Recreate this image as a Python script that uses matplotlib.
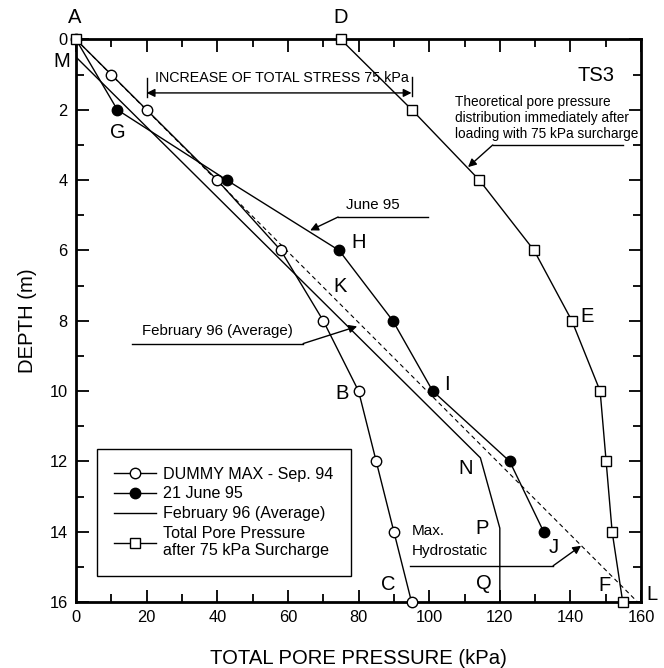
import numpy as np
import matplotlib.pyplot as plt
from matplotlib.ticker import MultipleLocator

plt.rcParams['font.family'] = ['Liberation Sans', 'DejaVu Sans']

# DUMMY MAX - Sep. 94 (open circles)
dummy_p = [0, 10, 20, 40, 58, 70, 80, 85, 90, 95]
dummy_d = [0, 1, 2, 4, 6, 8, 10, 12, 14, 16]

# 21 June 95 (filled circles)
june_p = [0, 11.7, 42.7, 74.5, 89.7, 101, 122.8, 132.4]
june_d = [0, 2, 4, 6, 8, 10, 12, 14]

# February 96 (Average)
feb_p = [0, 114.5, 120, 120]
feb_d = [0.5, 11.9, 13.9, 16]

# Total pore pressure after 75 kPa surcharge (open squares)
total_p = [75, 95.1, 114.2, 129.7, 140.4, 148.4, 150.1, 151.8, 154.8]
total_d = [0, 2, 4, 6, 8, 10, 12, 14, 16]

# Max. hydrostatic
hydro_p = [0, 159]
hydro_d = [0, 16]

letters = ['A', 'D', 'M', 'G', 'H', 'K', 'B', 'I', 'E', 'N', 'P', 'J', 'Q', 'C', 'F', 'L']
letter_x = [-0.3, 75, -4, 11.9, 79.9, 74.8, 75.4, 105.1, 144.8, 110.2, 115, 135.4, 115.6, 88.4, 149.6, 163.2]
letter_y = [-0.62, -0.62, 0.64, 2.64, 5.77, 7.02, 10.07, 9.81, 7.88, 12.2, 13.9, 14.46, 15.48, 15.5, 15.54, 15.8]

fig = plt.figure(figsize=(6.64, 6.68), dpi=100)
ax = fig.add_axes([0.1145, 0.0988, 0.851, 0.8421])

ax.plot(dummy_p, dummy_d, color='k', lw=1, marker='o', ms=7.5, mfc='white', mec='k', mew=1,
        clip_on=False, zorder=3, label='DUMMY MAX - Sep. 94')
ax.plot(june_p[1:], june_d[1:], color='k', lw=1, marker='o', ms=7.5, mfc='k', mec='k',
        clip_on=False, zorder=3, label='21 June 95')
ax.plot(june_p[:2], june_d[:2], color='k', lw=1, zorder=2)
ax.plot(feb_p, feb_d, color='k', lw=1, label='February 96 (Average)', zorder=2)
ax.plot(total_p, total_d, color='k', lw=1, marker='s', ms=6.5, mfc='white', mec='k', mew=1,
        clip_on=False, zorder=3, label='Total Pore Pressure\nafter 75 kPa Surcharge')
ax.plot([0], [0], ls='none', marker='s', ms=6.5, mfc='white', mec='k', mew=1, clip_on=False, zorder=4)
ax.plot(hydro_p, hydro_d, color='k', lw=0.8, ls=(0, (4, 3)), zorder=1)

ax.set_xlim(0, 160)
ax.set_ylim(16, 0)
ax.xaxis.set_major_locator(MultipleLocator(20))
ax.xaxis.set_minor_locator(MultipleLocator(10))
ax.yaxis.set_major_locator(MultipleLocator(2))
ax.yaxis.set_minor_locator(MultipleLocator(1))
ax.tick_params(which='both', direction='in', top=True, right=True, width=1.3, labelsize=11.8)
ax.tick_params(which='major', length=9, pad=6)
ax.tick_params(which='minor', length=5.5)
for s in ax.spines.values():
    s.set_linewidth(2)

ax.set_xlabel('TOTAL PORE PRESSURE (kPa)', fontsize=14.6, labelpad=17)
ax.set_ylabel('DEPTH (m)', fontsize=14.6, labelpad=9)

for t, x, y in zip(letters, letter_x, letter_y):
    ax.text(x, y, t, fontsize=14.5, ha='center', va='center', clip_on=False)

ax.text(147.3, 1.02, 'TS3', fontsize=14.5, ha='center', va='center')
ax.text(107.3, 1.58, 'Theoretical pore pressure\ndistribution immediately after\nloading with 75 kPa surcharge',
        fontsize=9.8, ha='left', va='top', linespacing=1.2)

# increase of total stress
ax.text(22.4, 1.1, 'INCREASE OF TOTAL STRESS 75 kPa', fontsize=10.3, ha='left', va='center')
ax.plot([20, 20], [1.1, 1.63], color='k', lw=1)
ax.plot([95, 95], [1.07, 1.6], color='k', lw=1)
ax.annotate('', xy=(20, 1.52), xytext=(95, 1.52),
            arrowprops=dict(arrowstyle='<|-|>', color='k', lw=1, mutation_scale=12, shrinkA=0, shrinkB=0))

arrow = dict(arrowstyle='-|>', color='k', lw=1, mutation_scale=12, shrinkA=0, shrinkB=0)

# theoretical leader
ax.plot([118, 154.8], [3.0, 3.0], color='k', lw=1)
ax.annotate('', xy=(111, 3.63), xytext=(118, 3.0), arrowprops=arrow)

# June 95 leader
ax.text(76.5, 4.7, 'June 95', fontsize=10.8, ha='left', va='center')
ax.plot([74.2, 99.7], [5.05, 5.05], color='k', lw=1)
ax.annotate('', xy=(66.3, 5.43), xytext=(74.2, 5.05), arrowprops=arrow)

# February 96 leader
ax.text(18.7, 8.28, 'February 96 (Average)', fontsize=10.8, ha='left', va='center')
ax.plot([15.9, 64.3], [8.65, 8.65], color='k', lw=1)
ax.annotate('', xy=(79.6, 8.16), xytext=(64.3, 8.65), arrowprops=arrow)

# Max. hydrostatic leader
ax.text(95.2, 13.97, 'Max.', fontsize=11, ha='left', va='center')
ax.text(95.2, 14.54, 'Hydrostatic', fontsize=11, ha='left', va='center')
ax.plot([94.6, 135.1], [14.97, 14.97], color='k', lw=1)
ax.annotate('', xy=(143, 14.4), xytext=(135.1, 14.97), arrowprops=arrow)

leg = ax.legend(loc='lower left', bbox_to_anchor=(0.0366, 0.046), borderaxespad=0,
                fontsize=11.6, handlelength=2.6, handletextpad=0.4, borderpad=1.1,
                labelspacing=0.3, fancybox=False, framealpha=1, edgecolor='k')
leg.get_frame().set_linewidth(1)

fig.savefig('out.png', dpi=100)
